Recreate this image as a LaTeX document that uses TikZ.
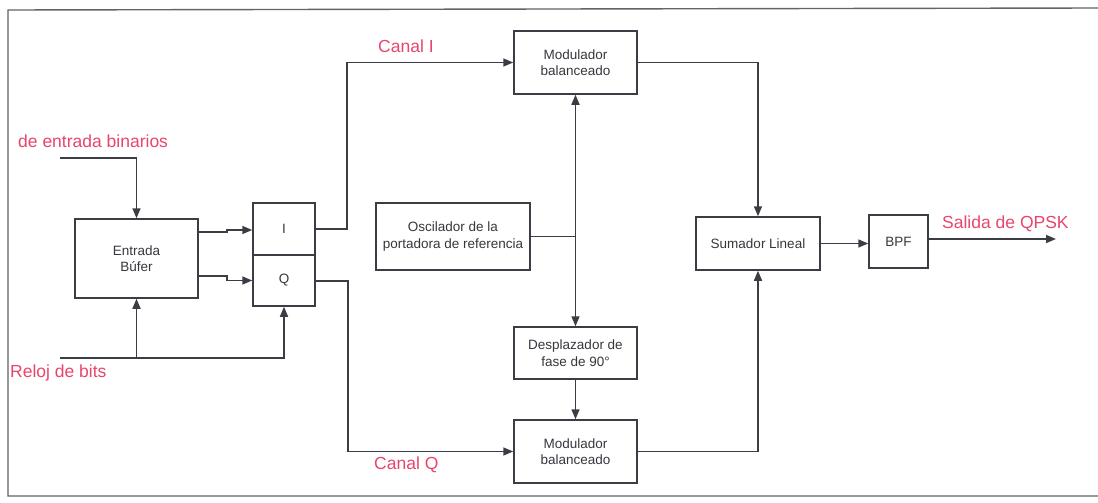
\documentclass[tikz,border=0pt]{standalone}
\usepackage{fontspec}
\setmainfont{Liberation Sans}
\usetikzlibrary{arrows.meta}
\definecolor{ln}{HTML}{3C3C44}
\definecolor{pk}{HTML}{E8456C}
\tikzset{
  blk/.style={draw=ln, line width=1.5pt, inner sep=0pt, align=center, font=\fontsize{13.5}{16.5}\selectfont, text=ln!90!black},
  wire/.style={draw=ln, line width=1.5pt},
  arr/.style={wire, -{Triangle[length=10pt,width=8pt]}},
  lbl/.style={text=pk, font=\fontsize{17.5}{20}\selectfont, inner sep=0pt, anchor=base west}
}
\begin{document}
\begin{tikzpicture}[x=1pt,y=-1pt]
\useasboundingbox (0,0) rectangle (1098,503);
\draw[draw=ln!80, line width=1.4pt] (1100,8) -- (8,10) -- (8,496) -- (1100,496);
% boxes
\node[blk, minimum width=123pt, minimum height=79pt] (buf) at (136.5,258.5) {Entrada\\B\'ufer};
\node[blk, minimum width=62pt, minimum height=52pt] (I) at (284,229) {I};
\node[blk, minimum width=62pt, minimum height=51pt] (Q) at (284,280.5) {Q};
\node[blk, minimum width=123pt, minimum height=63pt] (m1) at (575.5,62.5) {Modulador\\balanceado};
\node[blk, minimum width=154pt, minimum height=67pt] (osc) at (453,236.5) {Oscilador de la\\portadora de referencia};
\node[blk, minimum width=123pt, minimum height=52pt] (ph) at (575.5,353) {Desplazador de\\fase de 90\textdegree};
\node[blk, minimum width=123pt, minimum height=63pt] (m2) at (575.5,451.5) {Modulador\\balanceado};
\node[blk, minimum width=124pt, minimum height=53pt] (sum) at (758,243.5) {Sumador Lineal};
\node[blk, minimum width=59pt, minimum height=53pt] (bpf) at (898.5,241.5) {BPF};
% labels
\node[lbl] (ldata) at (18,147) {de entrada binarios};
\node[lbl] (lclk) at (10,377) {Reloj de bits};
\node[lbl] (lci) at (378,53) {Canal I};
\node[lbl] (lcq) at (374,469) {Canal Q};
\node[lbl] (lout) at (942,228) {Salida de QPSK};
% coordinates
\coordinate (din) at (60,158);
\coordinate (ck) at (60,358);
\coordinate (out) at (1056,239);
\coordinate (j) at (575.5,236.5);
% input wires
\draw[arr] (din) -| (buf.north);
\draw[arr] (ck) -| (Q.south);
\draw[arr] (136.5,358) -- (buf.south);
\draw[arr] (buf.east |- 0,232) -- (227,232) -- (227,230) -- (I.west |- 0,230);
\draw[arr] (buf.east |- 0,276) -- (227,276) -- (227,280.5) -- (Q.west);
% I/Q channels
\draw[arr] (I.east) -- (347,229) |- (m1.west);
\draw[arr] (Q.east |- 0,281) -- (348,281) |- (m2.west);
% oscillator
\draw[wire] (osc.east) -- (j);
\draw[arr] (j) -- (m1.south);
\draw[arr] (j) -- (ph.north);
\draw[arr] (ph.south) -- (m2.north);
% to summer
\draw[arr] (m1.east) -| (sum.north);
\draw[arr] (m2.east) -| (sum.south);
\draw[arr] (sum.east) -- (bpf.west |- sum.east);
\draw[arr] (bpf.east |- out) -- (out);
\end{tikzpicture}
\end{document}
